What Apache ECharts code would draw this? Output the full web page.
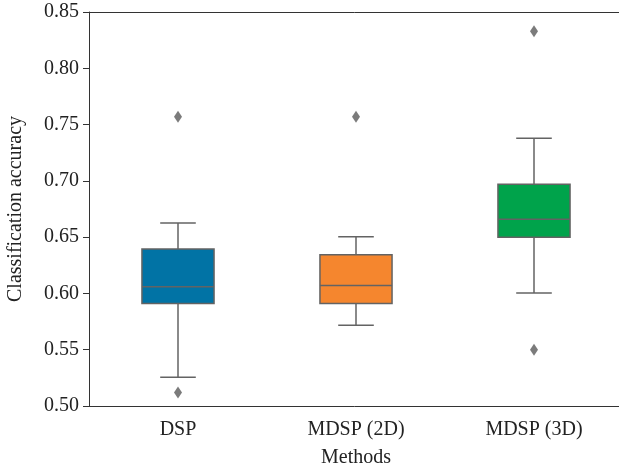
<!DOCTYPE html>
<html>
<head>
<meta charset="utf-8">
<script src="https://cdn.jsdelivr.net/npm/echarts@6/dist/echarts.min.js"></script>
<style>html,body{margin:0;padding:0;background:#fff}#c{width:619px;height:471px}</style>
</head>
<body>
<div id="c"></div>
<script>
var categories = ['DSP', 'MDSP (2D)', 'MDSP (3D)'];
var whiskerLow = [0.5255, 0.5717, 0.6004];
var q1 = [0.591, 0.591, 0.650];
var median = [0.606, 0.607, 0.666];
var q3 = [0.6395, 0.6344, 0.697];
var whiskerHigh = [0.6626, 0.6504, 0.7378];
var boxColors = ['#0173A5', '#F5862E', '#00A34B'];
var outlierCats = [0, 0, 1, 2, 2];
var outlierValues = [0.757, 0.512, 0.757, 0.833, 0.550];

var boxData = categories.map(function (c, i) {
  return [i, whiskerLow[i], q1[i], median[i], q3[i], whiskerHigh[i]];
});
var outData = outlierCats.map(function (c, i) { return [c, outlierValues[i]]; });

var font = 'Liberation Serif';
var edge = '#636363';
var chart = echarts.init(document.getElementById('c'), null, {renderer: 'canvas'});
chart.setOption({
  animation: false,
  grid: {left: 89, top: 12, width: 534, height: 394, containLabel: false, outerBoundsMode: 'none'},
  xAxis: [{
    type: 'category', data: categories, boundaryGap: true,
    name: 'Methods', nameLocation: 'middle', nameGap: 42,
    nameTextStyle: {fontFamily: font, fontSize: 20, color: '#222'},
    axisLine: {lineStyle: {color: '#333', width: 1}},
    axisTick: {alignWithLabel: true, length: 6, lineStyle: {color: '#333'}},
    axisLabel: {fontFamily: font, fontSize: 20, color: '#222', margin: 14}
  }, {
    type: 'category', data: categories, position: 'top',
    axisLine: {show: true, lineStyle: {color: '#333', width: 1}},
    axisTick: {show: false}, axisLabel: {show: false}
  }],
  yAxis: {
    type: 'value', min: 0.5, max: 0.85, interval: 0.05,
    name: 'Classification accuracy', nameLocation: 'middle', nameGap: 63,
    nameTextStyle: {fontFamily: font, fontSize: 20, color: '#222'},
    splitLine: {show: false},
    axisLine: {show: true, lineStyle: {color: '#333', width: 1}},
    axisTick: {show: true, length: 6, lineStyle: {color: '#333'}},
    axisLabel: {fontFamily: font, fontSize: 20, color: '#222', margin: 10,
      formatter: function (v) { return v.toFixed(2); }}
  },
  series: [{
    type: 'custom',
    data: boxData,
    encode: {x: 0, y: [1, 2, 3, 4, 5]},
    renderItem: function (params, api) {
      var i = api.value(0);
      var band = api.size([1, 0])[0];
      var bw = band * 0.405, cw = band * 0.2;
      var pLow = api.coord([i, api.value(1)]);
      var pQ1 = api.coord([i, api.value(2)]);
      var pMed = api.coord([i, api.value(3)]);
      var pQ3 = api.coord([i, api.value(4)]);
      var pHigh = api.coord([i, api.value(5)]);
      var x = pQ1[0];
      var ls = {stroke: edge, lineWidth: 1.5};
      return {
        type: 'group',
        children: [
          {type: 'line', shape: {x1: x, y1: pQ1[1], x2: x, y2: pLow[1]}, style: ls},
          {type: 'line', shape: {x1: x, y1: pQ3[1], x2: x, y2: pHigh[1]}, style: ls},
          {type: 'line', shape: {x1: x - cw / 2, y1: pLow[1], x2: x + cw / 2, y2: pLow[1]}, style: ls},
          {type: 'line', shape: {x1: x - cw / 2, y1: pHigh[1], x2: x + cw / 2, y2: pHigh[1]}, style: ls},
          {type: 'rect', shape: {x: x - bw / 2, y: pQ3[1], width: bw, height: pQ1[1] - pQ3[1]},
            style: {fill: boxColors[i], stroke: edge, lineWidth: 1.5}},
          {type: 'line', shape: {x1: x - bw / 2, y1: pMed[1], x2: x + bw / 2, y2: pMed[1]}, style: ls}
        ]
      };
    }
  }, {
    type: 'scatter',
    data: outData,
    symbol: 'diamond',
    symbolSize: [8, 12],
    itemStyle: {color: '#5a5a5a'}
  }]
});
</script>
</body>
</html>
